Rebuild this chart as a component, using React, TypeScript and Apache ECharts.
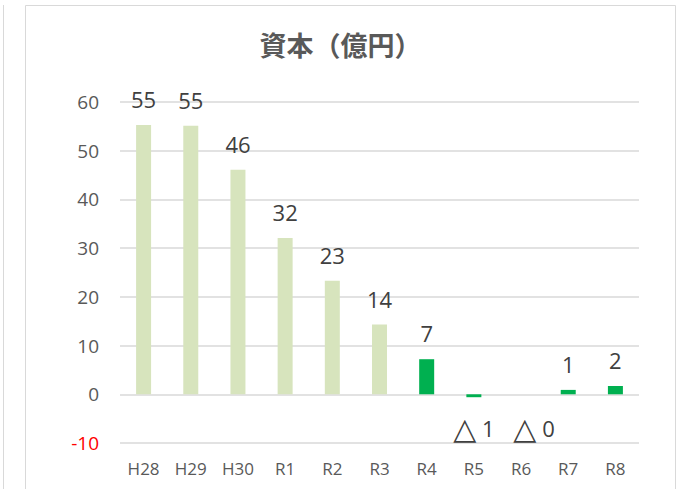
import React, { useEffect, useRef } from "react";
import * as echarts from "echarts";

const categories = ["H28", "H29", "H30", "R1", "R2", "R3", "R4", "R5", "R6", "R7", "R8"];
const capitalValues = [55.3, 55.1, 46.1, 32.1, 23.3, 14.3, 7.2, -0.6, 0, 0.9, 1.7];
const valueLabels = ["55", "55", "46", "32", "23", "14", "7", "△ 1", "△ 0", "1", "2"];
const titleText = "資本（億円）";

export default function App() {
  const ref = useRef<HTMLDivElement>(null);
  useEffect(() => {
    if (!ref.current) return;
    const chart = echarts.init(ref.current, null, { renderer: "svg" });
    const font = "'Open Sans', 'DejaVu Sans', sans-serif";
    const data = capitalValues.map((v, i) => {
      const below = valueLabels[i].startsWith("△");
      return {
        value: v,
        itemStyle: { color: i < 6 ? "#D7E4BD" : "#00B050" },
        label: below
          ? { position: "bottom", distance: i === 7 ? 16 : 19, offset: [i === 8 ? 13 : 0, 0] }
          : { position: "top", distance: 15 },
      };
    });
    chart.setOption({
      animation: false,
      backgroundColor: "#ffffff",
      title: {
        text: titleText,
        left: "center",
        top: 26,
        textStyle: {
          fontFamily: "'Noto Sans CJK JP', sans-serif",
          fontSize: 27,
          fontWeight: "bold",
          color: "#595959",
        },
      },
      graphic: [
        {
          type: "rect",
          shape: { x: 25.5, y: 5.5, width: 650, height: 500 },
          style: { fill: "none", stroke: "#D9D9D9", lineWidth: 1 },
          silent: true,
        },
        {
          type: "line",
          shape: { x1: 3.5, y1: 5, x2: 3.5, y2: 489 },
          style: { stroke: "#D9D9D9", lineWidth: 1 },
          silent: true,
        },
      ],
      grid: { left: 120, right: 42, top: 102, bottom: 46, containLabel: false },
      xAxis: {
        type: "category",
        data: categories,
        position: "bottom",
        axisLine: { show: false },
        axisTick: { show: false },
        axisLabel: {
          fontFamily: font,
          fontSize: 17,
          color: "#595959",
          margin: 17,
        },
      },
      yAxis: {
        type: "value",
        min: -10,
        max: 60,
        interval: 10,
        axisLine: { show: false },
        axisTick: { show: false },
        splitLine: { lineStyle: { color: "#D9D9D9", width: 1.5 } },
        axisLabel: {
          fontFamily: font,
          fontSize: 19,
          margin: 21,
          color: (val: any) => (Number(val) < 0 ? "#FF0000" : "#595959"),
        },
      },
      series: [
        {
          type: "bar",
          data,
          barWidth: 15,
          label: {
            show: true,
            fontFamily: font,
            fontSize: 22,
            color: "#404040",
            formatter: (p: any) => {
              const s = valueLabels[p.dataIndex];
              return s.startsWith("△") ? "{t|△} " + s.slice(2) : s;
            },
            rich: {
              t: {
                fontFamily: "'DejaVu Sans', sans-serif",
                fontSize: 30,
                color: "#404040",
              },
            },
          },
        },
      ],
    });
    return () => chart.dispose();
  }, []);
  return (
    <div
      ref={ref}
      style={{ position: "absolute", left: 0, top: 0, width: 681, height: 489 }}
    />
  );
}
